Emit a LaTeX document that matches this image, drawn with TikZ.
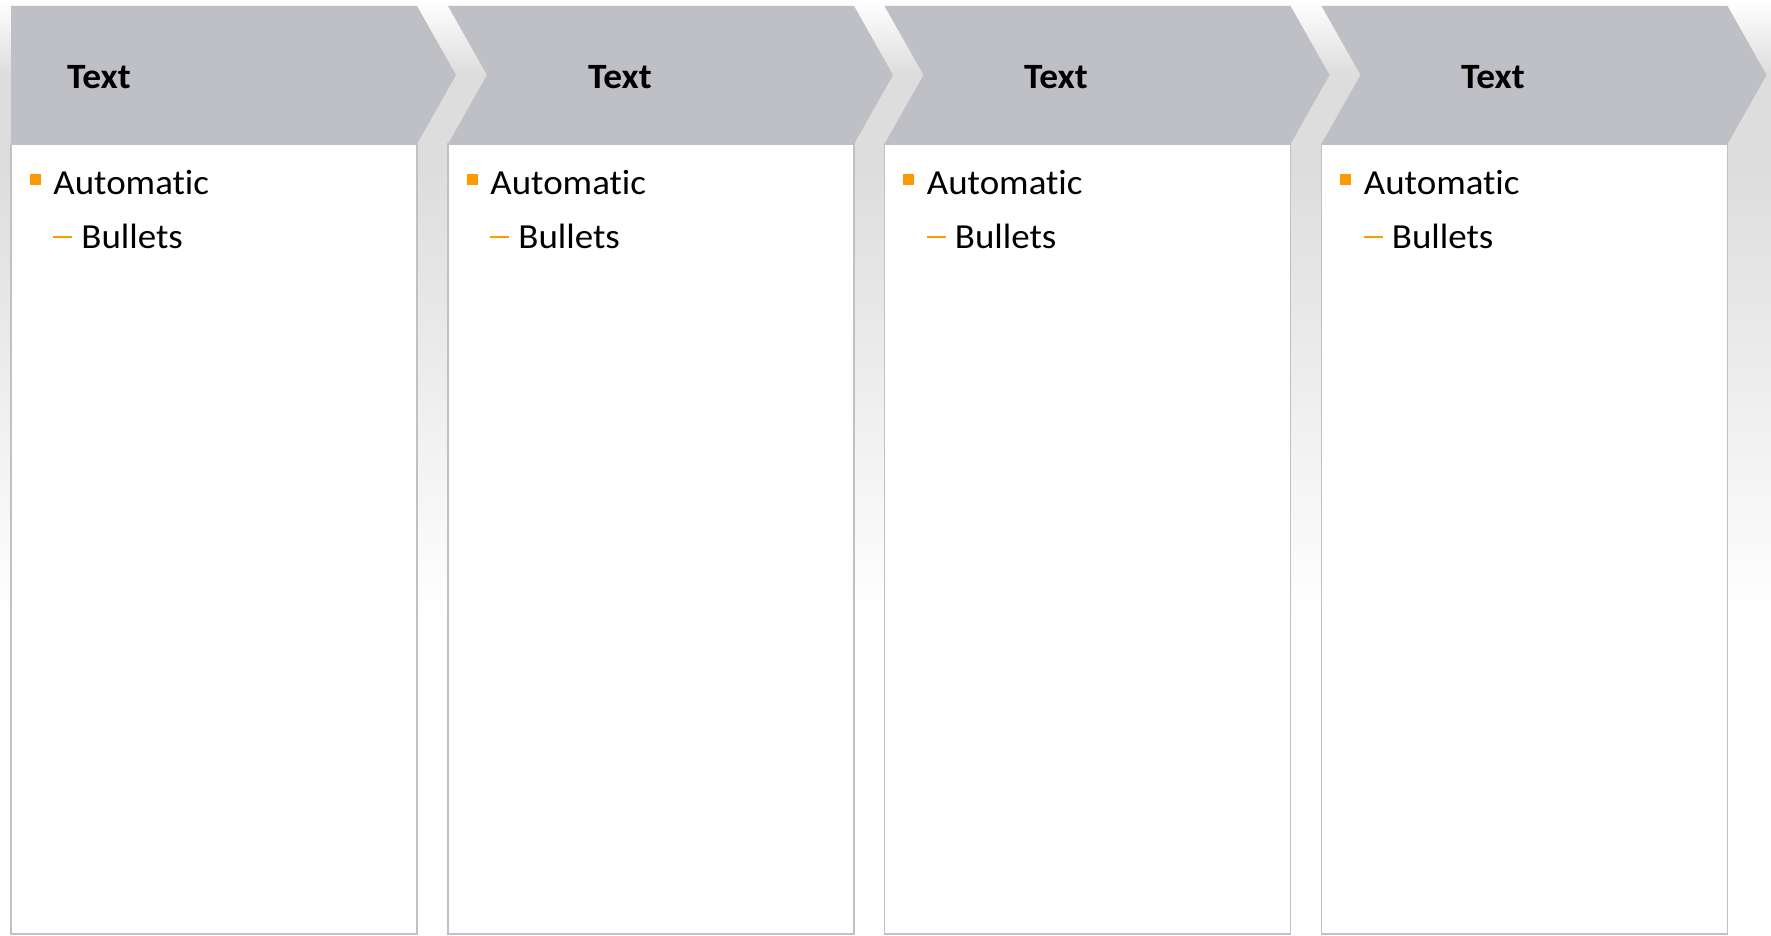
\documentclass[tikz,border=0pt]{standalone}
\usepackage{fontspec}
\setmainfont{Carlito}[Ligatures=NoCommon, FakeStretch=1.05]
\usetikzlibrary{positioning}

\definecolor{hdrgray}{RGB}{191,192,197}
\definecolor{boxline}{RGB}{192,192,200}
\definecolor{bggray}{RGB}{221,221,222}
\definecolor{bulletorange}{RGB}{255,153,0}
\pgfdeclareverticalshading{bgfade}{100bp}{color(0bp)=(white); color(42bp)=(white);
  color(66bp)=(bggray); color(71bp)=(bggray); color(75bp)=(white); color(100bp)=(white)}

\begin{document}
\begin{tikzpicture}[
        x=0.5pt, y=-0.5pt,
        header/.style={fill=hdrgray},
        panel/.style={draw=boxline, line width=0.8pt, fill=white},
        title/.style={anchor=base, font=\fontsize{17.8}{21}\selectfont\bfseries, inner sep=0pt},
        item/.style={anchor=base west, font=\fontsize{17.6}{21}\selectfont, inner sep=0pt},
        sqbullet/.style={fill=bulletorange, minimum size=5.5pt, inner sep=0pt},
        dashbullet/.style={fill=bulletorange, minimum width=9.5pt, minimum height=1.2pt, inner sep=0pt},
    ]

    % Background
    \useasboundingbox (0,0) rectangle (1771,936);
    \shade[shading=bgfade] (0,0) rectangle (1771,936);

    % Panel 1
    \draw[panel] (11,144) rectangle (417,934);
    \fill[header] (11,6) -- (417,6) -- (456,75) -- (417,144) -- (11,144) -- cycle;
    \node[title] (t1) at (99,89) {Text};
    \node[sqbullet] (s1) at (35,180) {};
    \node[item] (a1) at (53,194.5) {Automatic};
    \node[dashbullet] (d1) at (62.5,237) {};
    \node[item] (b1) at (81,248.5) {Bullets};

    % Panel 2
    \draw[panel] (448,144) rectangle (854,934);
    \fill[header] (448,6) -- (854,6) -- (893,75) -- (854,144) -- (448,144) -- (487,75) -- cycle;
    \node[title] (t2) at (620,89) {Text};
    \node[sqbullet] (s2) at (472,180) {};
    \node[item] (a2) at (490,194.5) {Automatic};
    \node[dashbullet] (d2) at (499.5,237) {};
    \node[item] (b2) at (518,248.5) {Bullets};

    % Panel 3
    \draw[panel] (884.5,144) rectangle (1290.5,934);
    \fill[header] (884.5,6) -- (1290.5,6) -- (1329.5,75) -- (1290.5,144) -- (884.5,144) -- (923.5,75) -- cycle;
    \node[title] (t3) at (1056,89) {Text};
    \node[sqbullet] (s3) at (908.5,180) {};
    \node[item] (a3) at (926.5,194.5) {Automatic};
    \node[dashbullet] (d3) at (936,237) {};
    \node[item] (b3) at (954.5,248.5) {Bullets};

    % Panel 4
    \draw[panel] (1321.5,144) rectangle (1727.5,934);
    \fill[header] (1321.5,6) -- (1727.5,6) -- (1766.5,75) -- (1727.5,144) -- (1321.5,144) -- (1360.5,75) -- cycle;
    \node[title] (t4) at (1493,89) {Text};
    \node[sqbullet] (s4) at (1345.5,180) {};
    \node[item] (a4) at (1363.5,194.5) {Automatic};
    \node[dashbullet] (d4) at (1373,237) {};
    \node[item] (b4) at (1391.5,248.5) {Bullets};

\end{tikzpicture}
\end{document}
